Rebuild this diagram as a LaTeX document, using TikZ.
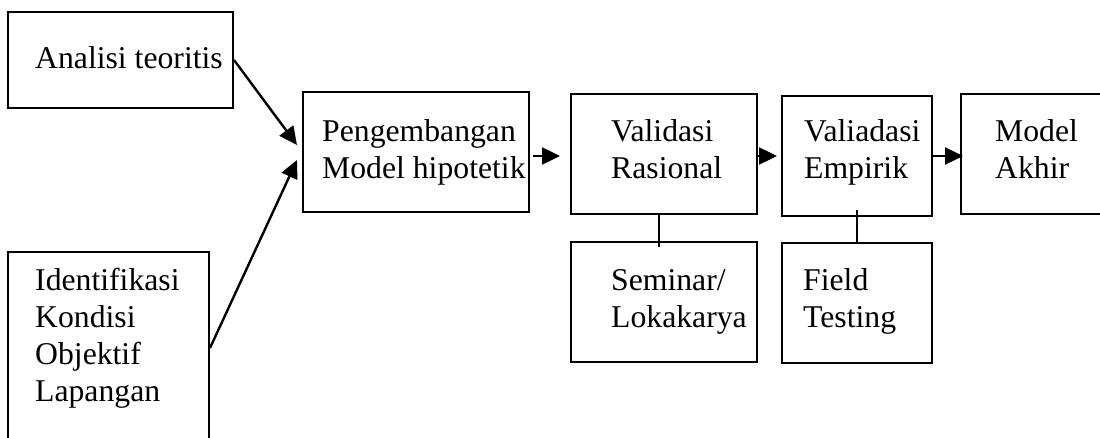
\documentclass[tikz,border=0pt]{standalone}
\usepackage{fontspec}
\setmainfont{Liberation Serif}
\usetikzlibrary{arrows.meta}

\begin{document}
\begin{tikzpicture}[x=1pt,y=-1pt,
    box/.style={draw,line width=2pt,inner sep=0pt},
    txt/.style={anchor=base west,align=left,inner sep=0pt,font=\fontsize{31.7pt}{37pt}\selectfont},
    arr/.style={line width=2.4pt,-{Triangle[length=18pt,width=17pt]}},
    tie/.style={line width=2pt}]
  \useasboundingbox (0,0) rectangle (1100,438);
  % kotak
  \node[box,minimum width=225pt,minimum height=96pt] (an) at (120.5,60) {};
  \node[box,minimum width=201pt,minimum height=192pt] (ik) at (108.5,348) {};
  \node[box,minimum width=226pt,minimum height=120pt] (pm) at (416,152) {};
  \node[box,minimum width=186pt,minimum height=120pt] (vr) at (664,154) {};
  \node[box,minimum width=150pt,minimum height=120pt] (ve) at (857,156) {};
  \node[box,minimum width=180pt,minimum height=120pt] (ma) at (1051,154) {};
  \node[box,minimum width=186pt,minimum height=120pt] (sm) at (664,302) {};
  \node[box,minimum width=150pt,minimum height=120pt] (ft) at (857,303) {};
  % teks (base = baris terakhir)
  \node[txt] (t-an) at (35,69) {Analisi teoritis};
  \node[txt] (t-ik) at (35,401) {Identifikasi\\Kondisi\\Objektif\\Lapangan};
  \node[txt] (t-pm) at (322,179) {Pengembangan\\Model hipotetik};
  \node[txt] (t-vr) at (611,179) {Validasi\\Rasional};
  \node[txt] (t-ve) at (804,179) {Valiadasi\\Empirik};
  \node[txt] (t-ma) at (995,179) {Model\\Akhir};
  \node[txt] (t-sm) at (611,327) {Seminar/\\Lokakarya};
  \node[txt] (t-ft) at (803,327) {Field\\Testing};
  % panah
  \coordinate (in1) at (297,145); \coordinate (in2) at (297,160);
  \draw[arr] (an.east) -- (in1);
  \draw[arr] (ik.east) -- (in2);
  \draw[arr,shorten <=3pt,shorten >=10pt] (pm.east |- ve.center) -- (vr.west |- ve.center);
  \draw[arr,shorten >=4pt] (vr.east |- ve.center) -- (ve.west);
  \draw[arr,shorten >=-3pt] (ve.east) -- (ma.west |- ve.center);
  \draw[tie,shorten >=-6pt] ([xshift=-5pt]vr.south) -- ([xshift=-5pt]vr.south |- sm.north);
  \draw[tie,shorten <=-7pt,shorten >=-2pt] (ve.south) -- (ft.north);
\end{tikzpicture}
\end{document}
